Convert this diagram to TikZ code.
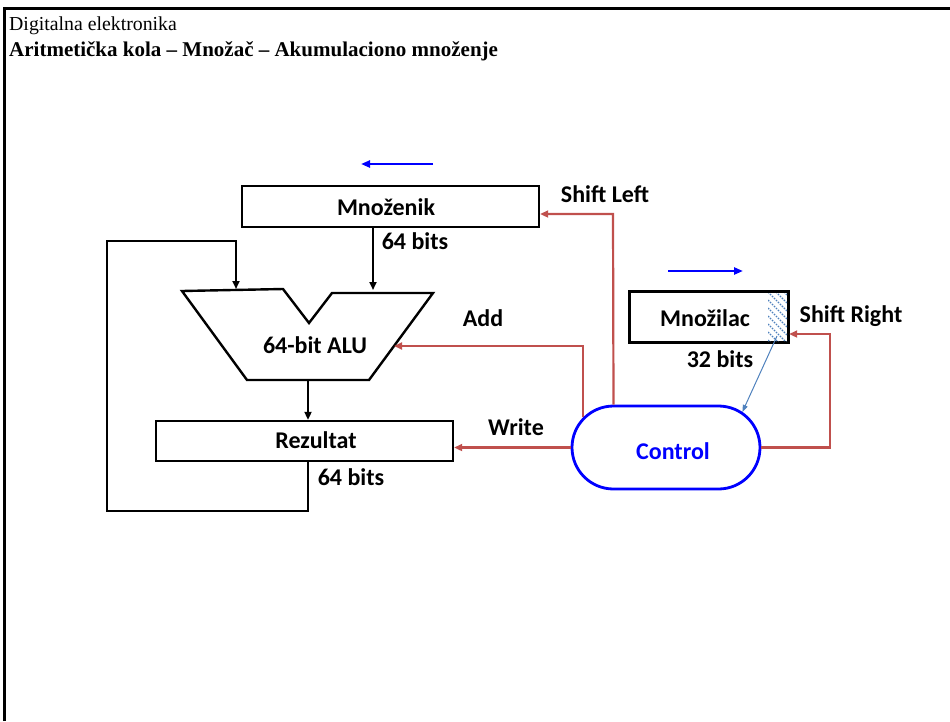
\documentclass[tikz,border=0pt]{standalone}
\usepackage{fontspec}
\setmainfont{Liberation Serif}
\newfontfamily\calfont{Carlito}
\usetikzlibrary{shapes.misc,arrows.meta,calc}
\definecolor{rd}{RGB}{192,80,77}
\definecolor{bl}{RGB}{0,0,255}
\definecolor{sb}{RGB}{79,129,189}
\begin{document}
\begin{tikzpicture}[x=1pt,y=-1pt,
  lbl/.style={font=\calfont\bfseries\fontsize{24}{28}\selectfont, inner sep=0pt},
  reg/.style={draw, line width=2.4pt, inner sep=0pt},
  wire/.style={line width=2pt},
  arr/.style={line width=2pt, -{Triangle[length=8pt,width=7pt]}},
  rarr/.style={rd, line width=2.2pt, -{Triangle[length=8pt,width=7pt]}},
  barr/.style={bl, line width=2.5pt, -{Triangle[length=9pt,width=7pt]}}]
\useasboundingbox (0,0) rectangle (950,721);
% frame
\draw[line width=3pt] (4,721) -- (4,8) -- (950,8);
% titles
\node[anchor=base west, inner sep=0pt, font=\fontsize{19.8}{23}\selectfont] (t1) at (9,30) {Digitalna elektronika};
\node[anchor=base west, inner sep=0pt, font=\bfseries\fontsize{21}{24}\selectfont] (t2) at (9,56) {Aritmetička kola – Množač – Akumulaciono množenje};
% registers
\node[reg, minimum width=297pt, minimum height=41pt] (mnoz) at (390.5,206.5) {};
\node[lbl] (mnozl) at (386,207) {Množenik};
\node[reg, minimum width=297pt, minimum height=40pt] (rez) at (304.5,441) {};
\node[lbl] (rezl) at (316,440) {Rezultat};
\node[reg, minimum width=158pt, minimum height=50pt] (mlr) at (709,317) {};
% hatch
\begin{scope}
  \clip (768,293) rectangle (787,341);
  \foreach \k in {-40,-32,...,60}
    \draw[sb, line width=1.2pt, dash pattern=on 1.6pt off 1.2pt] (768,292+\k) -- (790,314+\k);
\end{scope}
\draw[line width=2.4pt] (mlr.north west) rectangle (mlr.south east);
\node[lbl] (mlrl) at (705,318) {Množilac};
% control
\node[draw=bl, line width=2.8pt, rounded rectangle, minimum width=188pt, minimum height=83pt, inner sep=0pt] (ctrl) at (666,447.5) {};
\node[lbl, text=bl] (ctrll) at (673,451) {Control};
% ALU
\draw[line width=2.4pt, line join=miter] (182,291) -- (283,289) -- (309,323) -- (332,293) -- (433,293) -- (369,380) -- (247,380) -- cycle;
\node[lbl] (alul) at (315,345) {64-bit ALU};
\coordinate (aluA) at (236,289);
\coordinate (aluB) at (373,290);
\coordinate (aluO) at (308,380);
\coordinate (aluR) at (394,346);
% labels
\node[lbl] (b1) at (415,241) {64 bits};
\node[lbl] (b2) at (351,477) {64 bits};
\node[lbl] (b3) at (720,359) {32 bits};
\node[lbl] (sl) at (605,194) {Shift Left};
\node[lbl] (sr) at (851,316) {Shift Right};
\node[lbl] (ad) at (483,318) {Add};
\node[lbl] (wr) at (516,427) {Write};
% black connectors
\draw[arr] (mnoz.south -| aluB) -- (aluB);
\draw[arr] (aluO) -- (rez.north -| aluO);
\coordinate (lpA) at (107,511);
\coordinate (lpB) at (107,241);
\draw[wire, -{Triangle[length=8pt,width=7pt]}] (rez.south -| aluO) |- (lpA) -- (lpB) -| (aluA);
% red connectors
\draw[rarr] (ctrl.west) -- (rez.east |- ctrl.west);
\draw[rarr] (ctrl.160) |- (aluR);
\coordinate (slC) at (613,214);
\draw[rarr] (ctrl.north west) -- (slC) -- (mnoz.east |- slC);
\coordinate (srC) at (830,334);
\draw[rarr] (ctrl.east) -| (srC) -- (mlr.east |- srC);
% blue
\coordinate (hatch) at (777,336);
\draw[sb, line width=1pt, -{Triangle[length=7pt,width=5pt]}] (hatch) -- (ctrl.25);
\coordinate (ba1) at (433,164);
\coordinate (ba2) at (361,164);
\draw[barr] (ba1) -- (ba2);
\coordinate (ba3) at (668,271);
\draw[barr] (ba3) -- (743,271);
\end{tikzpicture}
\end{document}
